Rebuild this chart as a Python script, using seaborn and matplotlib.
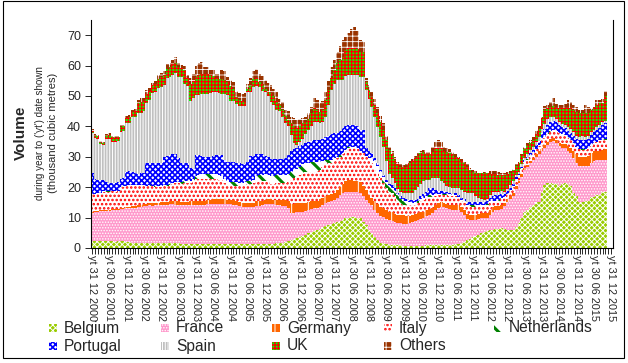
import matplotlib

matplotlib.use("Agg")
import matplotlib.patches as mpatches
import matplotlib.pyplot as plt
import numpy as np
import pandas as pd
import seaborn as sns

# month-end categories Dec 2000 .. Dec 2015; the last two months carry no data
try:
    month_ends = pd.date_range("2000-12-31", "2015-12-31", freq="ME")
except ValueError:
    month_ends = pd.date_range("2000-12-31", "2015-12-31", freq="M")
categories = [f"yt {d.day:02d} {d.month:02d} {d.year}" for d in month_ends]
tick_labels = [c if i % 6 == 0 else "" for i, c in enumerate(categories)]

# thousand cubic metres, year to date shown (one value per month, Dec 2000 .. Oct 2015)
belgium = [
    2.2, 2.2, 2.2, 2.3, 2.3, 2.2, 2.2, 2.2, 2.1, 2.2, 2.2, 2.2,
    2.1, 2.0, 1.8, 1.5, 1.5, 1.5, 1.5, 1.5, 1.6, 1.5, 1.5, 1.5,
    1.5, 1.5, 1.5, 1.5, 1.5, 1.5, 1.5, 1.4, 1.4, 1.4, 1.4, 1.4,
    1.4, 1.4, 1.4, 1.4, 1.4, 1.4, 1.4, 1.4, 1.4, 1.4, 1.3, 1.3,
    1.3, 1.3, 1.3, 1.3, 1.3, 1.3, 1.3, 1.3, 1.3, 1.3, 1.3, 1.3,
    1.3, 1.4, 1.4, 1.4, 1.5, 1.6, 1.8, 2.0, 2.3, 2.6, 2.9, 3.2,
    3.6, 4.0, 4.4, 4.8, 5.1, 5.5, 5.9, 6.3, 6.8, 7.2, 7.6, 7.8,
    8.1, 8.4, 8.8, 9.2, 9.8, 10.0, 10.2, 10.2, 10.0, 9.8, 8.5, 7.6,
    6.0, 4.8, 3.5, 2.6, 1.8, 1.5, 1.2, 1.0, 1.0, 1.0, 0.9, 0.9,
    0.8, 0.8, 0.8, 0.8, 0.8, 0.8, 0.8, 0.8, 0.9, 0.9, 1.0, 1.0,
    1.0, 1.0, 1.0, 1.0, 1.0, 1.1, 1.2, 1.3, 1.5, 2.0, 2.6, 3.0,
    3.5, 3.8, 4.2, 4.8, 5.2, 5.6, 5.9, 6.0, 6.2, 6.3, 6.5, 6.2,
    6.0, 5.9, 5.9, 7.0, 8.1, 10.0, 12.0, 12.5, 13.6, 14.2, 15.2, 15.2,
    18.5, 20.7, 21.3, 21.3, 21.0, 21.0, 20.5, 21.0, 21.3, 21.0, 20.5, 18.0,
    17.0, 15.2, 15.2, 15.5, 15.5, 16.9, 16.9, 17.4, 17.4, 18.5, 18.5,
]
france = [
    9.4, 9.6, 9.7, 9.8, 9.9, 10.0, 10.1, 10.2, 10.3, 10.4, 10.5, 10.6,
    10.9, 11.1, 11.4, 11.8, 12.0, 12.1, 12.3, 12.3, 12.4, 12.4, 12.5, 12.5,
    12.6, 12.7, 12.8, 12.9, 13.0, 12.8, 12.7, 12.6, 12.6, 12.6, 12.6, 12.6,
    12.6, 12.6, 12.7, 12.8, 13.0, 13.1, 13.2, 13.2, 13.2, 13.2, 13.2, 13.1,
    13.1, 13.0, 12.7, 12.4, 12.2, 12.1, 12.1, 12.1, 12.2, 12.6, 12.6, 12.9,
    13.2, 13.2, 13.2, 13.0, 12.7, 12.4, 12.1, 11.9, 10.7, 8.8, 8.7, 8.6,
    8.4, 8.0, 7.8, 7.8, 7.7, 7.5, 7.2, 7.3, 7.4, 7.5, 7.4, 7.5,
    7.7, 8.1, 8.5, 8.8, 8.7, 8.5, 8.3, 8.3, 8.3, 8.2, 8.5, 8.2,
    8.8, 9.3, 9.0, 8.8, 8.7, 8.8, 8.5, 8.2, 8.0, 7.6, 7.4, 7.2,
    7.2, 7.2, 7.3, 7.7, 8.2, 8.4, 8.8, 9.2, 9.6, 10.1, 10.4, 11.5,
    12.3, 12.6, 12.4, 12.0, 11.8, 11.5, 11.3, 11.2, 10.5, 9.0, 6.9, 6.2,
    5.7, 5.5, 5.3, 5.0, 4.6, 4.4, 5.1, 6.0, 6.3, 6.2, 6.3, 7.6,
    9.0, 10.1, 11.1, 12.5, 13.2, 13.5, 13.5, 14.0, 14.2, 14.6, 14.8, 15.8,
    13.5, 12.2, 12.7, 13.5, 14.1, 13.5, 13.0, 11.9, 11.6, 11.0, 10.7, 11.5,
    10.9, 11.8, 11.7, 11.4, 11.5, 11.1, 11.6, 11.6, 11.6, 10.5, 10.5,
]
germany = [
    0.3, 0.3, 0.3, 0.3, 0.3, 0.3, 0.3, 0.3, 0.3, 0.3, 0.3, 0.3,
    0.4, 0.4, 0.5, 0.5, 0.5, 0.5, 0.6, 0.7, 0.7, 0.8, 0.8, 0.9,
    0.9, 0.9, 0.9, 0.9, 1.0, 1.2, 1.2, 1.2, 1.2, 1.2, 1.3, 1.3,
    1.4, 1.4, 1.4, 1.4, 1.4, 1.4, 1.4, 1.5, 1.5, 1.5, 1.5, 1.5,
    1.4, 1.4, 1.4, 1.4, 1.4, 1.4, 1.4, 1.4, 1.4, 1.4, 1.4, 1.4,
    1.4, 1.5, 1.5, 1.5, 1.7, 1.8, 1.9, 1.9, 2.5, 3.1, 3.0, 2.9,
    2.8, 2.8, 2.7, 2.6, 2.5, 2.4, 2.4, 2.4, 2.3, 2.3, 2.3, 2.3,
    2.4, 2.5, 2.7, 3.0, 3.5, 3.8, 3.8, 3.7, 3.7, 3.6, 3.5, 3.2,
    2.7, 2.4, 3.0, 3.1, 3.0, 2.7, 2.8, 2.8, 2.7, 2.6, 2.7, 2.7,
    2.7, 2.5, 2.4, 2.3, 2.2, 2.3, 2.2, 2.0, 1.9, 1.8, 1.8, 1.5,
    1.5, 1.4, 1.4, 1.5, 1.5, 1.6, 1.5, 1.5, 1.6, 1.6, 1.7, 1.7,
    1.7, 1.7, 1.7, 1.6, 1.6, 1.6, 1.5, 1.4, 1.3, 1.3, 1.2, 1.0,
    1.0, 1.0, 1.0, 1.0, 0.9, 0.9, 0.9, 0.9, 0.9, 0.9, 0.9, 0.9,
    0.9, 0.9, 1.0, 1.0, 1.0, 1.0, 1.2, 1.3, 1.4, 1.6, 1.8, 2.5,
    3.0, 3.0, 2.9, 3.0, 3.3, 3.4, 3.3, 2.8, 3.0, 3.2, 3.5,
]
italy = [
    5.9, 5.7, 5.7, 5.7, 6.0, 6.0, 5.9, 5.9, 5.8, 5.8, 7.0, 7.1,
    7.0, 7.1, 7.0, 6.9, 6.6, 6.5, 6.1, 5.8, 5.7, 5.6, 5.4, 5.3,
    5.2, 5.2, 5.3, 5.5, 5.5, 5.8, 5.9, 6.0, 6.1, 6.2, 6.2, 6.6,
    7.4, 7.4, 7.3, 7.1, 6.9, 6.9, 6.8, 6.6, 6.4, 6.3, 5.3, 4.9,
    4.8, 4.8, 5.1, 5.4, 5.7, 6.0, 6.3, 6.3, 6.4, 6.9, 6.9, 6.6,
    6.3, 5.8, 5.1, 5.3, 5.4, 5.5, 5.5, 5.5, 6.3, 8.0, 8.4, 8.8,
    9.2, 9.7, 10.1, 9.9, 9.8, 9.7, 9.7, 9.5, 10.0, 10.5, 10.6, 10.3,
    10.6, 10.5, 10.0, 10.0, 10.0, 10.5, 10.5, 10.6, 10.5, 9.9, 10.6, 11.0,
    11.5, 11.4, 10.5, 10.1, 9.5, 8.3, 7.3, 6.5, 6.3, 5.8, 4.5, 3.7,
    3.4, 3.6, 3.6, 3.3, 3.1, 3.3, 3.7, 3.8, 4.0, 4.1, 3.7, 3.2,
    2.5, 2.4, 2.6, 2.8, 2.9, 2.9, 3.0, 2.5, 1.9, 2.4, 2.6, 2.7,
    2.7, 2.6, 2.4, 2.2, 2.4, 2.6, 2.5, 1.8, 1.4, 1.6, 2.2, 1.8,
    1.6, 1.8, 2.0, 2.0, 1.5, 1.6, 1.6, 1.6, 1.5, 1.5, 1.6, 1.7,
    2.8, 2.5, 2.5, 2.5, 2.5, 2.8, 3.0, 3.0, 2.8, 2.6, 2.4, 2.2,
    2.2, 2.5, 2.5, 2.4, 2.3, 2.3, 2.6, 3.0, 3.2, 3.2, 3.0,
]
netherlands = [
    0.1, 0.1, 0.1, 0.1, 0.1, 0.1, 0.1, 0.1, 0.1, 0.1, 0.1, 0.1,
    0.1, 0.1, 0.1, 0.1, 0.1, 0.1, 0.1, 0.2, 0.2, 0.2, 0.2, 0.2,
    0.2, 0.3, 0.3, 0.3, 0.3, 0.3, 0.4, 0.4, 0.6, 0.6, 0.7, 0.8,
    0.9, 1.1, 1.4, 1.6, 1.7, 1.6, 1.5, 1.5, 1.4, 1.3, 1.5, 1.4,
    1.2, 1.1, 1.1, 1.0, 0.9, 1.0, 1.0, 1.1, 1.2, 1.6, 1.8, 1.9,
    2.0, 2.2, 2.5, 2.5, 2.6, 2.6, 2.7, 2.7, 2.7, 2.5, 2.5, 2.5,
    2.8, 3.0, 2.8, 2.9, 3.1, 3.1, 3.0, 2.7, 2.0, 1.3, 1.1, 1.1,
    0.7, 0.5, 0.5, 0.3, 0.3, 0.3, 0.3, 0.3, 0.3, 0.3, 0.3, 0.4,
    0.6, 1.6, 2.5, 2.4, 2.0, 1.9, 1.8, 1.9, 1.8, 1.8, 1.8, 1.7,
    1.5, 1.2, 0.9, 0.8, 0.7, 0.6, 0.6, 0.6, 0.6, 0.6, 0.5, 0.4,
    0.4, 0.4, 0.4, 0.4, 0.4, 0.4, 0.4, 0.4, 0.4, 0.4, 0.4, 0.4,
    0.4, 0.4, 0.4, 0.4, 0.4, 0.4, 0.4, 0.4, 0.4, 0.4, 0.4, 0.3,
    0.3, 0.3, 0.3, 0.2, 0.2, 0.2, 0.2, 0.2, 0.2, 0.2, 0.2, 0.2,
    0.2, 0.2, 0.2, 0.2, 0.2, 0.2, 0.2, 0.2, 0.2, 0.2, 0.2, 0.2,
    0.2, 0.2, 0.2, 0.2, 0.2, 0.2, 0.2, 0.2, 0.2, 0.2, 0.2,
]
portugal = [
    6.7, 4.7, 4.4, 4.2, 3.7, 3.0, 2.9, 2.7, 2.8, 2.8, 2.7, 2.7,
    4.5, 4.5, 4.3, 3.8, 3.8, 3.9, 4.2, 7.4, 7.5, 7.4, 7.4, 7.5,
    7.6, 9.4, 9.5, 9.4, 9.7, 9.4, 7.8, 6.3, 6.0, 5.8, 4.0, 3.4,
    6.8, 6.7, 6.2, 5.6, 5.5, 5.6, 6.1, 6.3, 6.6, 6.8, 6.0, 6.0,
    6.4, 6.6, 6.4, 6.3, 6.2, 5.9, 6.2, 8.2, 7.9, 7.1, 6.8, 6.7,
    6.1, 5.8, 5.7, 5.7, 5.4, 5.3, 5.3, 5.5, 6.0, 7.0, 7.0, 6.8,
    6.7, 6.5, 6.6, 6.8, 7.0, 7.3, 7.3, 7.3, 7.3, 7.7, 8.0, 8.5,
    8.2, 7.8, 8.0, 8.2, 7.7, 7.4, 7.4, 7.4, 7.2, 7.0, 7.4, 2.4,
    2.4, 1.6, 1.0, 0.9, 0.8, 0.8, 0.8, 0.8, 0.8, 0.8, 0.8, 0.8,
    0.8, 0.8, 0.8, 0.8, 0.8, 0.8, 1.1, 1.4, 1.5, 2.1, 2.2, 1.4,
    1.1, 1.0, 0.8, 0.7, 0.6, 0.4, 0.6, 0.6, 0.6, 0.6, 1.0, 1.2,
    1.2, 1.2, 1.2, 1.2, 1.0, 0.8, 1.1, 1.6, 1.8, 1.6, 1.0, 0.7,
    0.7, 0.7, 0.7, 0.6, 0.5, 0.6, 0.7, 0.8, 0.9, 0.9, 1.1, 1.4,
    2.0, 2.6, 2.8, 3.0, 3.0, 2.8, 2.6, 2.4, 2.2, 2.0, 2.2, 2.4,
    2.5, 2.8, 3.0, 3.0, 3.2, 3.3, 3.4, 3.8, 4.2, 5.0, 5.5,
]
spain = [
    13.1, 13.6, 13.6, 11.7, 11.6, 14.2, 14.5, 13.6, 13.4, 13.6, 15.4, 15.4,
    16.0, 16.0, 17.9, 18.6, 19.8, 19.9, 20.2, 19.7, 20.5, 23.1, 23.6, 24.6,
    25.0, 23.5, 25.7, 25.9, 26.0, 26.5, 26.9, 28.2, 26.2, 25.6, 22.2, 23.3,
    19.7, 19.8, 20.4, 20.9, 20.9, 20.9, 20.9, 20.8, 20.4, 20.3, 21.9, 22.1,
    20.3, 20.1, 19.3, 19.0, 19.1, 19.1, 22.9, 20.8, 22.4, 22.5, 22.0, 21.0,
    20.9, 20.0, 18.6, 17.5, 16.1, 15.8, 13.7, 11.5, 9.5, 5.2, 2.0, 1.2,
    1.5, 2.0, 3.1, 4.0, 4.8, 6.1, 6.1, 5.5, 5.7, 6.7, 10.0, 14.5,
    16.3, 17.5, 16.8, 15.8, 16.5, 16.5, 16.5, 16.5, 16.8, 17.6, 17.6, 19.2,
    17.0, 15.4, 13.5, 12.0, 10.7, 9.3, 6.1, 3.3, 2.3, 1.9, 1.4, 1.5,
    1.6, 1.9, 2.2, 2.3, 3.2, 4.0, 3.8, 4.2, 3.9, 2.8, 3.3, 3.9,
    4.1, 3.2, 2.7, 2.1, 1.8, 1.7, 1.6, 2.1, 2.5, 2.5, 2.8, 2.8,
    2.8, 1.8, 1.3, 0.8, 0.6, 0.8, 1.0, 1.3, 1.1, 1.1, 1.2, 0.9,
    0.9, 0.9, 1.0, 0.7, 0.6, 0.7, 0.8, 0.8, 0.8, 0.8, 1.0, 1.2,
    1.3, 1.6, 1.8, 1.6, 1.4, 1.2, 1.0, 1.0, 1.1, 1.4, 1.3, 1.2,
    1.1, 1.1, 1.3, 1.1, 1.0, 1.0, 0.8, 1.0, 1.0, 1.0, 0.6,
]
uk = [
    0.9, 0.8, 0.9, 0.6, 0.7, 1.1, 1.3, 1.4, 1.5, 1.3, 1.6, 1.6,
    1.8, 1.8, 1.8, 1.8, 3.3, 3.5, 3.3, 3.2, 3.0, 2.6, 2.6, 3.1,
    3.3, 3.5, 3.0, 3.1, 3.5, 3.5, 3.1, 3.1, 4.3, 2.5, 5.5, 5.5,
    6.2, 6.5, 6.6, 6.6, 6.6, 6.0, 5.2, 4.6, 4.8, 4.7, 4.6, 4.3,
    4.8, 4.1, 2.5, 2.0, 1.4, 1.3, 1.1, 2.1, 2.8, 2.4, 1.8, 2.0,
    1.1, 1.5, 2.9, 3.0, 3.1, 2.5, 2.5, 2.5, 2.1, 3.8, 5.5, 5.4,
    5.0, 5.0, 4.1, 3.7, 4.5, 4.3, 3.9, 3.8, 4.0, 5.5, 5.0, 3.8,
    4.5, 5.4, 6.7, 7.6, 8.5, 8.7, 8.7, 8.7, 8.7, 8.2, 8.2, 2.7,
    3.0, 3.3, 4.0, 4.4, 5.0, 5.5, 7.0, 7.7, 8.0, 7.5, 8.0, 8.3,
    8.5, 8.8, 9.9, 10.5, 10.5, 10.3, 10.1, 9.5, 8.6, 8.6, 8.6, 9.9,
    9.9, 10.8, 10.7, 11.0, 11.1, 11.4, 10.4, 9.9, 9.5, 9.4, 8.5, 7.5,
    7.0, 7.6, 8.1, 8.6, 8.8, 8.4, 7.0, 6.0, 5.8, 5.5, 5.2, 5.5,
    5.0, 4.1, 3.5, 3.0, 3.0, 3.0, 2.8, 3.2, 2.5, 2.4, 2.8, 2.6,
    3.5, 4.8, 3.6, 3.4, 3.5, 3.4, 4.4, 5.1, 5.3, 6.4, 6.8, 7.5,
    7.9, 7.7, 7.5, 7.7, 7.5, 7.3, 7.2, 7.2, 7.0, 6.0, 8.2,
]
others = [
    0.4, 0.4, 0.4, 0.4, 0.4, 0.5, 0.4, 0.4, 0.5, 0.5, 0.5, 0.6,
    0.6, 0.6, 0.6, 0.6, 1.0, 1.2, 1.1, 1.2, 1.1, 0.8, 0.8, 1.2,
    1.2, 1.2, 1.4, 1.3, 1.5, 1.8, 1.2, 0.9, 1.5, 1.0, 2.0, 2.5,
    3.5, 4.0, 3.8, 2.3, 2.1, 1.8, 1.9, 1.5, 1.7, 3.2, 3.0, 1.6,
    2.0, 2.1, 2.0, 2.1, 2.6, 2.8, 1.7, 2.5, 2.7, 3.0, 2.7, 2.8,
    2.8, 3.0, 2.6, 2.5, 2.9, 1.5, 2.6, 1.9, 2.9, 2.2, 2.7, 2.7,
    2.3, 1.7, 1.6, 1.8, 2.0, 3.3, 3.2, 2.8, 3.0, 2.7, 3.0, 3.8,
    3.5, 3.9, 4.5, 5.5, 4.5, 4.9, 6.3, 6.9, 6.0, 3.8, 3.4, 1.1,
    1.5, 1.6, 2.0, 2.2, 2.0, 2.2, 1.5, 1.1, 1.0, 1.0, 0.8, 0.7,
    0.8, 0.7, 0.7, 0.7, 0.8, 0.8, 0.7, 0.7, 0.5, 0.5, 1.8, 2.2,
    2.7, 2.2, 1.3, 1.5, 1.4, 0.7, 1.0, 0.5, 0.7, 0.5, 1.0, 0.7,
    0.7, 0.6, 0.2, 0.2, 0.4, 0.2, 0.9, 0.9, 1.1, 1.0, 0.6, 0.6,
    0.6, 0.5, 0.5, 0.6, 0.4, 0.5, 0.8, 0.5, 0.9, 1.0, 1.2, 1.0,
    0.5, 1.3, 1.1, 1.5, 2.5, 1.6, 1.1, 1.1, 1.6, 2.5, 2.1, 1.5,
    1.7, 1.1, 1.2, 2.7, 2.0, 0.4, 0.5, 1.7, 1.1, 1.3, 1.5,
]

series_names = ["Belgium", "France", "Germany", "Italy", "Netherlands",
                "Portugal", "Spain", "UK", "Others"]
series_values = [belgium, france, germany, italy, netherlands,
                 portugal, spain, uk, others]

# fill, hatch pattern, hatch colour, hatch line width (Excel-like pattern fills)
styles = {
    "Belgium": ("#99CC00", "xxxxxx", "#FFFFFF", 0.7),
    "France": ("#FF99CC", "......", "#FFFFFF", 0.7),
    "Germany": ("#FF6600", "|", "#FFFFFF", 0.7),
    "Italy": ("#FFFFFF", "....", "#FF0000", 1.2),
    "Netherlands": ("#FFFFFF", "\\\\", "#008000", 2.2),
    "Portugal": ("#FFFFFF", "xxxxxx", "#0000FF", 1.2),
    "Spain": ("#C0C0C0", "||||||", "#FFFFFF", 0.7),
    "UK": ("#00FF00", "+++++", "#FF0000", 0.9),
    "Others": ("#993300", "+++", "#FFFFFF", 0.6),
}

sns.set_style("white")
plt.rcParams["font.family"] = ["Liberation Sans", "DejaVu Sans"]

W, H = 628, 363
fig = plt.figure(figsize=(W / 100, H / 100), dpi=100)
ax = fig.add_axes([90.7 / W, 1 - 248 / H, 522 / W, 228 / H])

n_data = len(belgium)
x_cats = categories[:n_data]
tops = np.cumsum(np.array(series_values), axis=0)

# stacked bars: draw cumulative totals from the top layer down
for k in range(len(series_names) - 1, -1, -1):
    face, hatch, ink, hlw = styles[series_names[k]]
    n0 = len(ax.patches)
    with plt.rc_context({"hatch.linewidth": hlw}):
        sns.barplot(x=x_cats, y=tops[k], order=categories, width=1.0,
                    errorbar=None, color=face, ax=ax)
        for p in ax.patches[n0:]:
            p.set_facecolor(face)
            p.set_edgecolor(ink)
            p.set_hatch(hatch)
            p.set_linewidth(0)
            p.set_antialiased(False)
            if hasattr(p, "set_hatch_linewidth"):
                p.set_hatch_linewidth(hlw)

ax.set_xlim(-0.5, len(categories) - 0.5)
ax.set_ylim(0, 75)
ax.set_yticks(range(0, 71, 10))
ax.set_xticks(range(len(categories)))
ax.set_xticklabels(tick_labels, rotation=270, fontsize=7.8)
ax.tick_params(axis="x", length=4, width=0.7, pad=1, direction="out", bottom=True)
ax.tick_params(axis="y", length=4, width=0.7, pad=3, labelsize=9, direction="out", left=True)
ax.set_xlabel("")
ax.set_ylabel("")
for side in ["left", "bottom", "right"]:
    ax.spines[side].set_visible(True)
    ax.spines[side].set_color("black")
    ax.spines[side].set_linewidth(0.8)
ax.spines["top"].set_visible(False)
ax.grid(False)

# y-axis titles
yc = 1 - 133 / H
fig.text(21 / W, yc, "Volume", rotation=90, ha="center", va="center",
         fontsize=11, fontweight="bold")
fig.text(40 / W, yc, "during year to ('yt') date shown", rotation=90,
         ha="center", va="center", fontsize=7.1)
fig.text(53.5 / W, yc, "(thousand cubic metres)", rotation=90,
         ha="center", va="center", fontsize=8.0)

# legend, laid out like the original (5 columns, 2 rows)
legend_rows = [["Belgium", "France", "Germany", "Italy", "Netherlands"],
               ["Portugal", "Spain", "UK", "Others"]]
col_left = [49, 161, 272, 384, 494]
row_mid = [328, 346]
box = 8
for r, names in enumerate(legend_rows):
    for c, name in enumerate(names):
        face, hatch, ink, hlw = styles[name]
        with plt.rc_context({"hatch.linewidth": hlw}):
            icon = mpatches.Rectangle(
                (col_left[c] / W, 1 - (row_mid[r] + box / 2) / H), box / W, box / H,
                transform=fig.transFigure, facecolor=face, edgecolor=ink,
                hatch=hatch, linewidth=0)
        fig.add_artist(icon)
        fig.text((col_left[c] + 15) / W, 1 - row_mid[r] / H, name,
                 ha="left", va="center", fontsize=11.2)

# chart border
fig.add_artist(mpatches.Rectangle((3 / W, 5 / H), 621 / W, 357 / H,
                                  transform=fig.transFigure, fill=False,
                                  edgecolor="black", linewidth=0.8))

fig.savefig("out.png", dpi=100)
plt.close(fig)
